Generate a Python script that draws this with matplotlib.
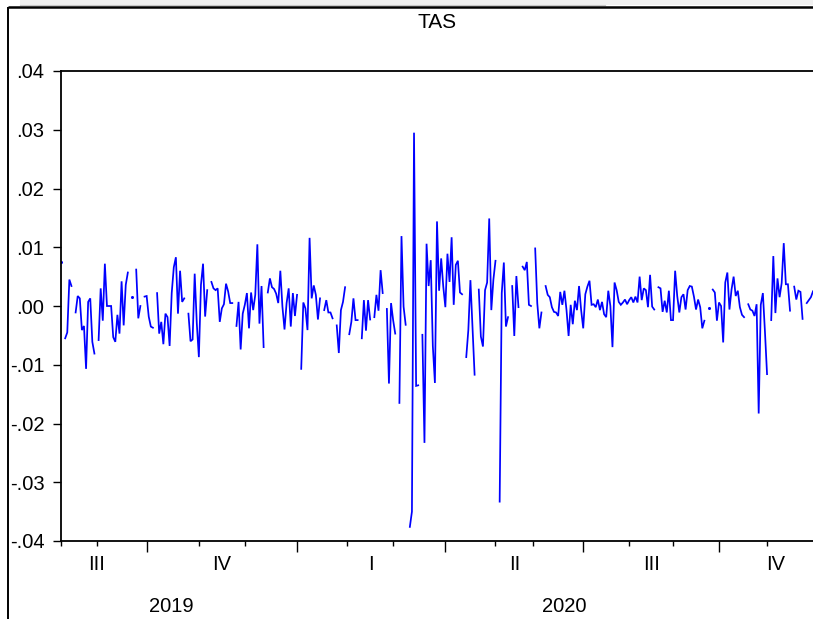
import numpy as np
import matplotlib
matplotlib.use("Agg")
import matplotlib.pyplot as plt
from matplotlib.lines import Line2D
from matplotlib.patches import Rectangle
from matplotlib.transforms import blended_transform_factory

nan = np.nan

# ---------------- data ----------------
title = "TAS"

tas_part1 = [0.0075, nan, -0.0055, -0.0045, 0.0045, 0.0034, nan, -0.0011, 0.0017, 0.0013,
             -0.0041, -0.0034, -0.0107, 0.0007, 0.0013, -0.0061, -0.0081, nan, -0.0058, 0.003,
             -0.0025, 0.0072, 0.0, 0.0, 0.0, -0.0053, -0.0061, -0.0015, -0.0047, 0.0042,
             -0.0033, 0.0036, 0.0057, nan, 0.0016, nan, 0.0062, -0.0021, 0.0, nan,
             0.0016, 0.0017, -0.0018, -0.0035, -0.0037, nan, 0.0022, -0.0047, -0.0027, -0.0065,
             -0.0013, -0.0019, -0.0068, 0.0022, 0.0066, 0.0083, -0.0013, 0.006, 0.0007, 0.0013,
             nan, -0.0013, -0.006, -0.0057, 0.0055, -0.0029, -0.0087, 0.0036, 0.0072, -0.0018,
             0.0027, nan, 0.0041, 0.003, 0.0027, 0.003, -0.0027, -0.0004, 0.0003, 0.0038,
             0.0025, 0.0005, 0.0005, nan, -0.0034, 0.0007, -0.0074, -0.0013, 0.0002, 0.0022,
             -0.0038, 0.0023, -0.0007, 0.0019]

tas_part2 = [0.0105, -0.003, 0.0034, -0.007, nan, 0.0023, 0.0047, 0.0032, 0.0029, 0.0021,
             0.0005, 0.006, -0.0001, -0.004, 0.0005, 0.003, -0.0035, 0.0022, -0.0017, 0.0019,
             nan, -0.0107, 0.0006, -0.0004, -0.0041, 0.0116, 0.0013, 0.0035, 0.0019, -0.0023,
             0.0013, nan, -0.0007, 0.001, -0.0011, -0.0011, -0.0021, nan, -0.0033, -0.008,
             -0.0007, 0.0007, 0.0032, nan, -0.0048, -0.0027, 0.0013, -0.0024, -0.0024, nan,
             -0.0055, 0.001, -0.0042, 0.001, -0.0023, nan, -0.0019, 0.0019, -0.0008, 0.0061,
             0.0022]

tas_part3 = [nan, -0.0005, -0.0132, 0.0005, -0.0024, -0.0047, nan, -0.0165, 0.0119, -0.0001,
             -0.0032, nan, -0.0376, -0.035, 0.0295, -0.0136, -0.0135, nan, -0.0049, -0.0233,
             0.0106, 0.0034, 0.0078, -0.0068, -0.0131, 0.0144, 0.0026, 0.0081, 0.0033,
             -0.0002, 0.0089, 0.0041, 0.0117, 0.0002, 0.007, 0.0077, 0.0023, 0.002, nan,
             -0.0087, -0.0041, 0.0044, -0.0035, -0.0117, nan, 0.0028, -0.0052, -0.0069, 0.0027,
             0.004, 0.0149, -0.0007, 0.0045, 0.0077, nan, -0.0333, 0.0022,
             0.0074, -0.0035, -0.0019, nan, 0.0034, -0.0051]

tas_part4 = [0.0051, -0.0002, nan, 0.0067, 0.0061, 0.0075, 0.0002, 0.0, nan, 0.0098,
             0.0005, -0.0038, -0.0011, nan, 0.0034, 0.0019, 0.0015, -0.0002, -0.001, -0.0011,
             -0.0017, 0.0024, 0.0002, 0.0026, -0.0007, -0.0051, 0.0002, -0.0031, 0.0009, -0.0007,
             0.0034, -0.0007, -0.0038, 0.002, 0.0033, 0.0043, 0.0002, 0.0003, -0.0002, 0.0011,
             -0.0007, 0.0007, -0.0014, -0.0019, 0.0026, 0.0, -0.007, 0.004, 0.0027, 0.0007,
             0.0002, 0.0006, 0.0011, 0.0003, 0.001, 0.0015, 0.0006, 0.0016, 0.0006, 0.005,
             0.001, 0.003, 0.0027, -0.0002, 0.0053, -0.0001, -0.0006, nan, 0.0032, 0.003,
             -0.001, 0.0009, -0.0011, 0.0026, -0.0024, -0.0024, 0.006, 0.0017, -0.0011, 0.0015,
             0.002, -0.0006, 0.0027, 0.0034, 0.0033, 0.0016, -0.0006, 0.0011, -0.0002, -0.0038,
             -0.0025, nan, -0.0004, nan, 0.0028, 0.0023, -0.0025, 0.0006, 0.0, -0.0062,
             0.004, 0.0057, -0.0006, 0.0028, 0.005, 0.0017, 0.0026, -0.0002, -0.0015, -0.0019,
             nan, 0.0003, -0.0006, -0.0008, -0.0017, 0.0003, -0.0183, 0.0002, 0.0022, -0.0044,
             -0.0116, nan,
             -0.0024, 0.0085, -0.0012, 0.0047, 0.0015, 0.0039, 0.0107, 0.0037, 0.0037, -0.0008,
             nan, 0.0033, 0.0011, 0.0026, 0.0024, -0.0022, nan, 0.0005, 0.001, 0.0015,
             0.0025]

# observation index where each month starts (Aug 2019 ... Nov 2020)
month_start_obs = [17, 41, 66, 88, 113, 137, 159, 184, 208, 226, 250, 272, 293, 315, 338]
# quarter starts (first and last extrapolated beyond the sample)
quarter_start_obs = [-7, 41, 113, 184, 250, 315, 369]
quarter_labels = ["III", "IV", "I", "II", "III", "IV"]
year_start_obs = [-7, 113, 369]
year_labels = ["2019", "2020"]

y_ticks = [-0.04, -0.03, -0.02, -0.01, 0.0, 0.01, 0.02, 0.03, 0.04]
y_tick_labels = ["-.04", "-.03", "-.02", "-.01", ".00", ".01", ".02", ".03", ".04"]

# ---------------- plot ----------------
plt.rcParams['font.family'] = ['Liberation Sans', 'DejaVu Sans']

values = np.array(tas_part1 + tas_part2 + tas_part3 + tas_part4, dtype=float)
x = np.arange(len(values))

W, H = 813, 619
fig = plt.figure(figsize=(W / 100, H / 100), dpi=100)
fig.patch.set_facecolor('white')
fig.patch.set_edgecolor('none')
fig.patch.set_linewidth(0)

ax = fig.add_axes([61 / W, (H - 541) / H, (W - 61) / W, (541 - 71) / H])
ax.plot(x, values, color='#0000ff', lw=1.25, solid_joinstyle='miter')

# isolated observations (no neighbours) drawn as dots
finite = np.isfinite(values)
prev_ok = np.r_[False, finite[:-1]]
next_ok = np.r_[finite[1:], False]
iso = finite & ~prev_ok & ~next_ok
ax.plot(x[iso], values[iso], 'o', color='#0000ff', ms=2.2, mec='none')

ax.set_xlim(0, len(values) - 1)
ax.set_ylim(-0.04, 0.04)

ax.set_yticks(y_ticks)
ax.set_yticklabels(y_tick_labels)
ax.tick_params(axis='y', direction='out', length=6, width=1.0, pad=6,
               labelsize=14.5, colors='black', right=False)

# x ticks: long at quarter boundaries, short at month starts
q_inside = [q for q in quarter_start_obs if 0 <= q <= len(values) - 1]
ax.set_xticks(q_inside)
ax.set_xticks([0] + [m for m in month_start_obs if m not in q_inside], minor=True)
ax.tick_params(axis='x', which='major', direction='out', length=8, width=1.0,
               labelbottom=False, top=False)
ax.tick_params(axis='x', which='minor', direction='out', length=3.8, width=1.0,
               labelbottom=False, top=False)

for side in ['left', 'bottom', 'top']:
    ax.spines[side].set_linewidth(1.3)
    ax.spines[side].set_color('black')
ax.spines['right'].set_visible(False)

trans = blended_transform_factory(ax.transData, ax.transAxes)
axh = 541 - 71
for i, lab in enumerate(quarter_labels):
    c = (quarter_start_obs[i] + quarter_start_obs[i + 1]) / 2
    ax.text(c, -(565 - 541) / axh, lab, transform=trans, ha='center', va='center',
            fontsize=14.5, clip_on=False)
for i, lab in enumerate(year_labels):
    c = (year_start_obs[i] + year_start_obs[i + 1]) / 2
    ax.text(c, -(607 - 541) / axh, lab, transform=trans, ha='center', va='center',
            fontsize=14.5, clip_on=False)

fig.text(437 / W, 1 - 22 / H, title, ha='center', va='center', fontsize=15)

# window frame decoration
fig.add_artist(Rectangle((20 / W, 1 - 5 / H), 1 - 20 / W, 5 / H,
                         transform=fig.transFigure, facecolor='#f0f0f0',
                         edgecolor='none', lw=0))
fig.add_artist(Line2D([20 / W, 605 / W], [1 - 4.5 / H, 1 - 4.5 / H],
                      transform=fig.transFigure, color='#c8c8c8', lw=0.8))
fig.add_artist(Line2D([7.5 / W, 1], [1 - 6.5 / H, 1 - 6.5 / H],
                      transform=fig.transFigure, color='black', lw=1.8,
                      solid_capstyle='butt'))
fig.add_artist(Line2D([7.5 / W, 7.5 / W], [0, 1 - 6.5 / H],
                      transform=fig.transFigure, color='black', lw=1.4,
                      solid_capstyle='butt'))

fig.savefig('out.png', dpi=100, facecolor='white')
